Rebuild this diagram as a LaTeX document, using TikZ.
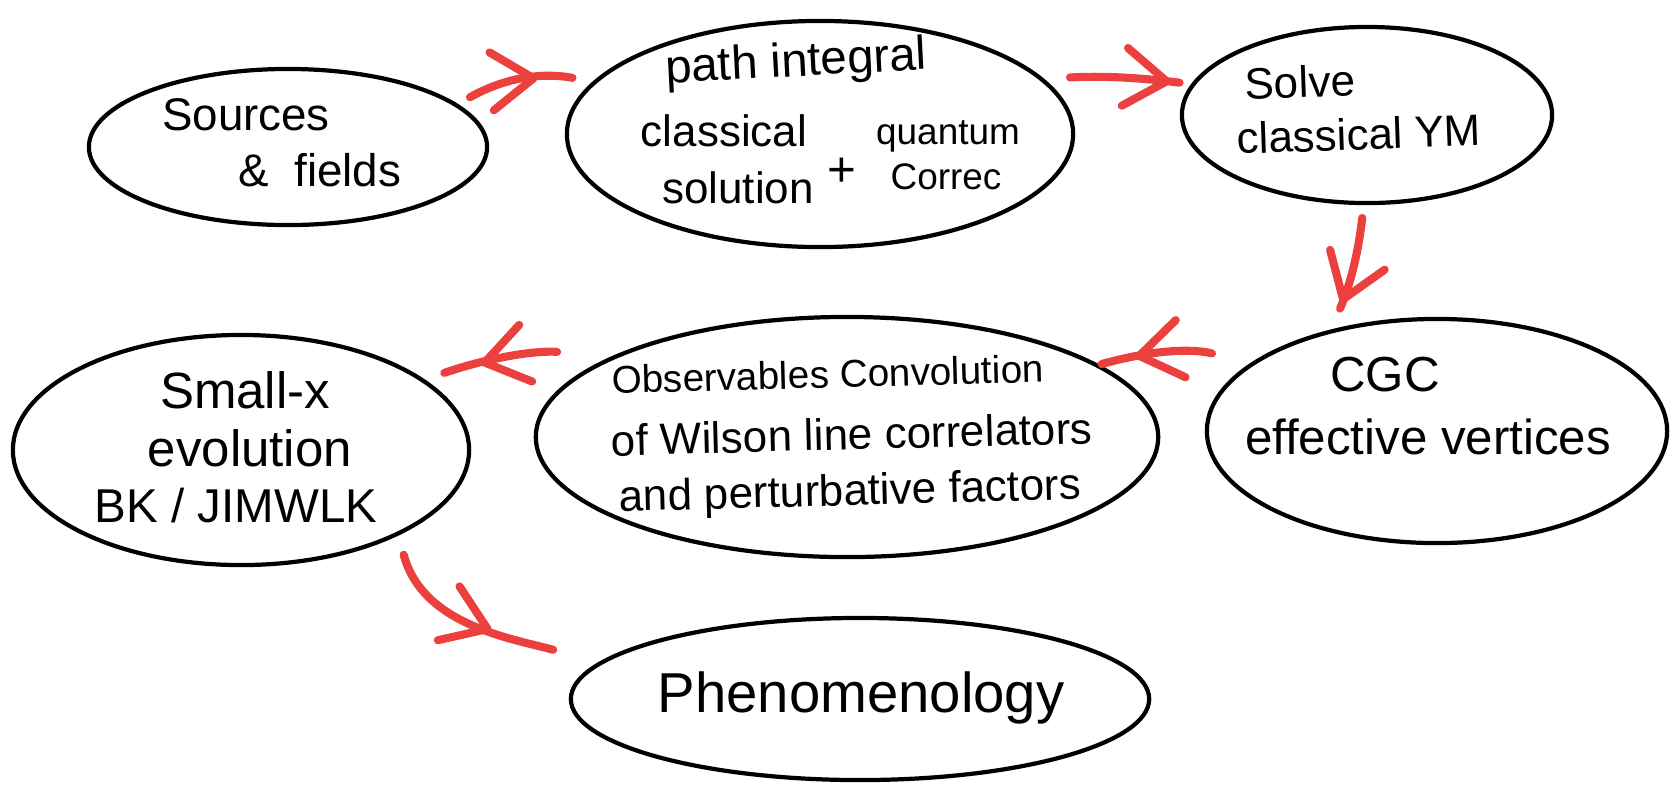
\documentclass[tikz,border=0pt]{standalone}
\usepackage{fontspec}
\setmainfont{Liberation Sans}
\usetikzlibrary{arrows.meta,shapes.geometric,decorations.markings}
\definecolor{penred}{RGB}{236,64,62}

\begin{document}
\begin{tikzpicture}[
    x=0.01cm, y=0.01cm,
    bubble/.style={draw, ellipse, line width=1.2pt, inner sep=0pt, outer sep=0pt},
    word/.style={inner sep=0pt, font=\fontsize{#1}{#1}\selectfont},
    flow/.style={draw=penred, line width=2.3pt, line cap=round,
      postaction={decorate},
      decoration={markings, mark=at position #1 with
        {\arrow[penred]{Straight Barb[length=4.2mm, width=5.8mm, line width=2.3pt, round]}}}},
]
\useasboundingbox (0,0) rectangle (1670,-787);

% the seven bubbles
\node[bubble, minimum width=3.98cm, minimum height=1.56cm] (src)    at (288,-147)  {};
\node[bubble, minimum width=5.06cm, minimum height=2.26cm] (path)   at (820,-134)  {};
\node[bubble, minimum width=3.70cm, minimum height=1.76cm] (solve)  at (1367,-115) {};
\node[bubble, minimum width=4.60cm, minimum height=2.24cm] (cgc)    at (1437,-431) {};
\node[bubble, minimum width=6.22cm, minimum height=2.40cm] (obs)    at (847,-437)  {};
\node[bubble, minimum width=4.56cm, minimum height=2.30cm] (smallx) at (241,-450)  {};
\node[bubble, minimum width=5.78cm, minimum height=1.62cm] (pheno)  at (860,-699)  {};

% labels
\node[word=13] (srcA) at (246,-115) {Sources};
\node[word=13] (srcB) at (320,-170) {\&\ \ fields};

\node[word=13.5, rotate=3] (pathA) at (796,-64) {path integral};
\node[word=12.5] (pathB) at (724,-131) {classical};
\node[word=12.5] (pathC) at (738,-188) {solution};
\node[word=14] (plus) at (842,-172) {+};
\node[word=10.5] (pathD) at (948,-136) {quantum};
\node[word=10.5] (pathE) at (946,-177) {Correc};

\node[word=12.5, rotate=2] (solveA) at (1300,-82) {Solve};
\node[word=12.5, rotate=2] (solveB) at (1359,-134) {classical YM};

\node[word=14] (cgcA) at (1385,-375) {CGC};
\node[word=14] (cgcB) at (1428,-437) {effective vertices};

\node[word=11, rotate=1.5] (obsA) at (828,-374) {Observables Convolution};
\node[word=12.5, rotate=1.5] (obsB) at (852,-434) {of Wilson line correlators};
\node[word=12.5, rotate=1.5] (obsC) at (850,-494) {and perturbative factors};

\node[word=14.5] (smallxA) at (245,-390) {Small-x};
\node[word=14.5] (smallxB) at (250,-448) {evolution};
\node[word=13.5] (smallxC) at (236,-506) {BK / JIMWLK};

\node[word=16] (phenoA) at (861,-698) {Phenomenology};

% red arrows
\draw[flow=0.6, shorten <=0.16cm, shorten >=0.23cm] (src.14) to[bend left=20] (path.167);
\draw[flow=0.85, shorten <=0.29cm, shorten >=0.14cm] (path.14) to[bend left=5] (solve.170);
\draw[flow=0.77, shorten <=0.15cm, shorten >=0.25cm] (solve.268) to[bend left=8] (cgc.137);
\draw[flow=0.75, shorten <=0.42cm, shorten >=0.05cm] (cgc.160) to[bend right=15] (obs.16);
\draw[flow=0.69, shorten <=0.58cm, shorten >=0.23cm] (obs.161) to[bend right=12] (smallx.21);
\draw[flow=0.55, shorten <=0.22cm, shorten >=0.5cm] (smallx.332) to[out=-75, in=165] (pheno.172);
\end{tikzpicture}
\end{document}
